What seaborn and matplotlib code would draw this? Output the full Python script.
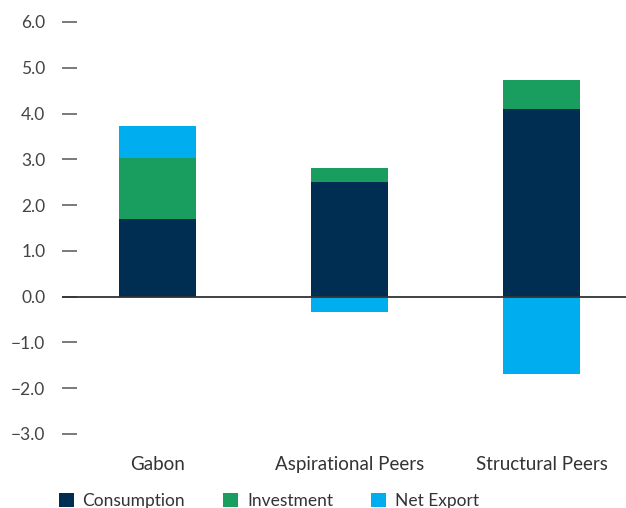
import numpy as np
import pandas as pd
import matplotlib
matplotlib.use("Agg")
import matplotlib.pyplot as plt
from matplotlib.patches import Patch
import seaborn as sns

categories = ["Gabon", "Aspirational Peers", "Structural Peers"]
consumption = [1.70, 2.50, 4.10]
investment = [1.34, 0.31, 0.64]
net_export = [0.68, -0.34, -1.69]
series_names = ["Consumption", "Investment", "Net Export"]
colors = ["#002D52", "#1A9E5F", "#00AEEF"]
yticks = [-3.0, -2.0, -1.0, 0.0, 1.0, 2.0, 3.0, 4.0, 5.0, 6.0]

sns.set_theme(style="white")
plt.rcParams["font.family"] = ["Lato", "DejaVu Sans"]

fig = plt.figure(figsize=(6.26, 5.08), dpi=100)
ax = fig.add_axes([62 / 626, 74 / 508, 1 - 62 / 626, (434 - 22) / 508])

series = [consumption, investment, net_export]
pos_base = np.zeros(len(categories))
neg_base = np.zeros(len(categories))
for name, vals, col in zip(series_names, series, colors):
    vals = np.array(vals, dtype=float)
    bottoms = np.where(vals >= 0, pos_base, neg_base)
    df = pd.DataFrame({"cat": categories, "val": vals})
    sns.barplot(data=df, x="cat", y="val", order=categories, color=col,
                width=0.4, bottom=bottoms, ax=ax, linewidth=0, saturation=1,
                errorbar=None)
    pos_base = pos_base + np.where(vals >= 0, vals, 0)
    neg_base = neg_base + np.where(vals < 0, vals, 0)

ax.axhline(0, color="#333333", linewidth=1.3, zorder=5)
ax.set_ylim(-3.0, 6.0)
ax.set_xlim(-0.495, 2.44)
ax.set_yticks(yticks)
ax.set_yticklabels([f"{v:.1f}".replace("-", "\u2212") for v in yticks])
ax.tick_params(axis="y", direction="in", length=11, width=1.1, color="#555555",
               labelsize=12.5, labelcolor="#444444", pad=12, left=True)
ax.tick_params(axis="x", length=0, labelsize=13.5, labelcolor="#333333", pad=16)
ax.set_xlabel("")
ax.set_ylabel("")
for s in ax.spines.values():
    s.set_visible(False)

handles = [Patch(facecolor=c, edgecolor="none") for c in colors]
fig.legend(handles, series_names, loc="center left",
           bbox_to_anchor=(59 / 626, 7 / 508), ncol=3, frameon=False,
           fontsize=12.5, handlelength=0.86, handleheight=0.86,
           handletextpad=0.5, columnspacing=2.2, borderpad=0,
           borderaxespad=0, labelcolor="#333333")

fig.savefig("out.png", dpi=100)
